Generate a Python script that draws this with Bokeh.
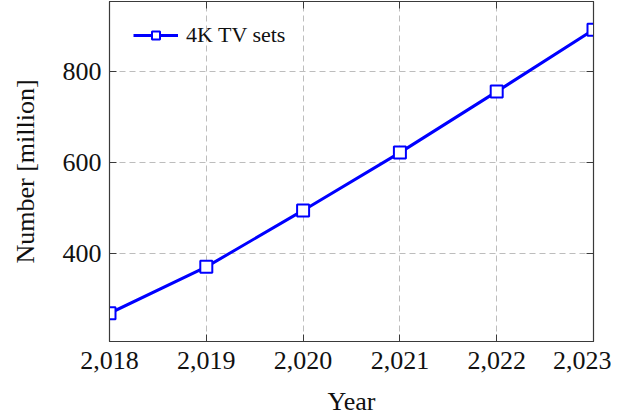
from bokeh.plotting import figure
from bokeh.models import (ColumnDataSource, FixedTicker, LinearAxis, Range1d,
                          Legend, LegendItem)
from bokeh.embed import file_html
from bokeh.resources import INLINE

years = [2018, 2019, 2020, 2021, 2022, 2023]
tv_sets = [268, 370, 494, 621, 755, 891]
x_tick_labels = ["2,018", "2,019", "2,020", "2,021", "2,022", "2,023"]
y_ticks = [400, 600, 800]
series_name = "4K TV sets"

FONT = "Liberation Serif"
AX = "#3a3a3a"

src = ColumnDataSource(dict(x=years, y=tv_sets))

p = figure(width=611, height=418, output_backend="svg", toolbar_location=None,
           x_range=Range1d(2018, 2023), y_range=Range1d(206, 953),
           min_border_left=109, min_border_right=18, min_border_top=1,
           min_border_bottom=60)

p.outline_line_color = AX
p.outline_line_width = 1.2

for ax in (p.xaxis[0], p.yaxis[0]):
    ax.major_label_text_font = FONT
    ax.major_label_text_font_size = "26px"
    ax.major_label_text_color = "#111111"
    ax.axis_label_text_font = FONT
    ax.axis_label_text_font_size = "26px"
    ax.axis_label_text_font_style = "normal"
    ax.axis_label_text_color = "#111111"
    ax.axis_line_color = AX
    ax.major_tick_line_color = AX
    ax.major_tick_in = 7
    ax.major_tick_out = 0
    ax.minor_tick_line_color = None

p.xaxis[0].ticker = FixedTicker(ticks=years)
p.xaxis[0].major_label_overrides = {y: l for y, l in zip(years, x_tick_labels)}
p.xaxis[0].axis_label = "Year"
p.xaxis[0].major_label_standoff = 10
p.xaxis[0].axis_label_standoff = 15

p.yaxis[0].ticker = FixedTicker(ticks=y_ticks)
p.yaxis[0].axis_label = "Number [million]"
p.yaxis[0].major_label_standoff = 8
p.yaxis[0].axis_label_standoff = 20

# mirrored tick axes
top = LinearAxis(ticker=FixedTicker(ticks=years))
right = LinearAxis(ticker=FixedTicker(ticks=y_ticks))
for ax in (top, right):
    ax.major_label_text_font_size = "0px"
    ax.major_label_text_color = None
    ax.major_label_standoff = 0
    ax.major_tick_in = 7
    ax.major_tick_out = 0
    ax.minor_tick_line_color = None
    ax.major_tick_line_color = AX
    ax.axis_line_color = AX
p.add_layout(top, "above")
p.add_layout(right, "right")

p.xgrid.ticker = FixedTicker(ticks=years)
p.ygrid.ticker = FixedTicker(ticks=y_ticks)
for g in (p.xgrid[0], p.ygrid[0]):
    g.grid_line_color = "#bdbdbd"
    g.grid_line_dash = "6 4"
    g.grid_line_width = 1

line = p.line("x", "y", source=src, line_color="#0000ff", line_width=3)
pts = p.scatter("x", "y", source=src, marker="square", size=12,
                fill_color="white", line_color="#0000ff", line_width=2)

legend = Legend(items=[LegendItem(label=series_name, renderers=[line, pts])],
                location=(24, 293))
legend.label_text_font = FONT
legend.label_text_font_size = "22px"
legend.label_text_color = "#111111"
legend.border_line_color = None
legend.background_fill_alpha = 0
legend.padding = 0
legend.margin = 0
legend.glyph_width = 45
legend.glyph_height = 20
legend.label_standoff = 8
p.add_layout(legend, "center")

open("out.html", "w").write(file_html(p, INLINE))
